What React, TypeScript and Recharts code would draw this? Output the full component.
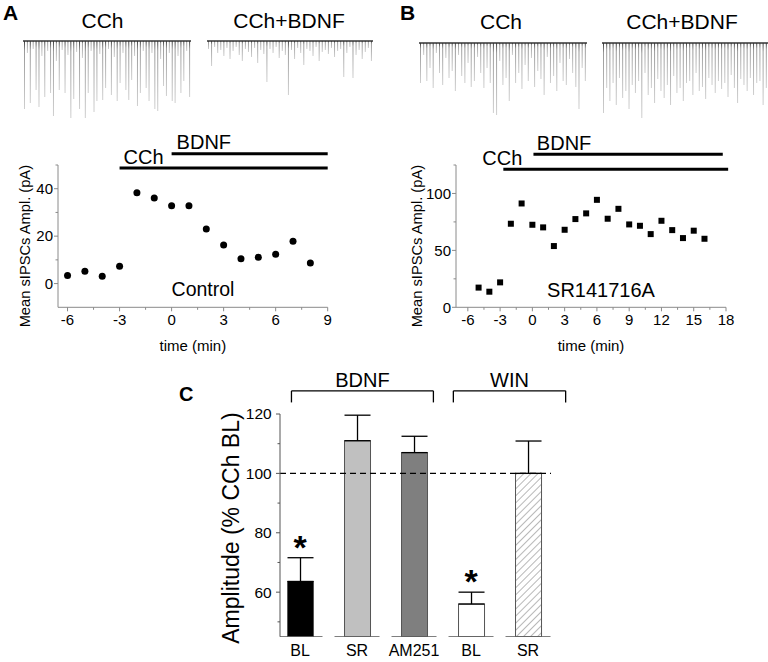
import React from 'react';
import {
  BarChart,
  Bar,
  ComposedChart,
  ScatterChart,
  Scatter,
  XAxis,
  YAxis,
  ReferenceLine,
  ErrorBar,
  Label,
} from 'recharts';

const FONT = '"Liberation Sans", Arial, Helvetica, sans-serif';

// ── Example traces: depth of each sIPSC event below baseline (px) ────────────
const TRACE_A_CCH = [68, 12, 62, 8, 49, 66, 15, 56, 10, 52, 75, 20, 49, 9, 52, 14, 77, 58, 11, 68, 17, 77, 52, 10, 71, 60, 13, 59, 47, 8, 54, 16, 60, 42, 12, 49, 59, 39, 15, 65, 52, 10, 47, 60, 12, 68, 70, 18, 45, 55, 12, 60, 62, 15, 52, 40, 10, 56];
const TRACE_A_BDNF = [8, 25, 6, 12, 9, 15, 7, 18, 10, 6, 14, 20, 8, 11, 16, 7, 22, 9, 13, 41, 8, 12, 6, 17, 10, 14, 54, 9, 18, 7, 12, 24, 8, 10, 15, 6, 20, 11, 9, 13, 7, 16, 10, 8, 36, 12, 6, 37, 14, 9, 18, 11, 7, 20];
const TRACE_B_CCH = [40, 12, 38, 25, 45, 10, 30, 42, 15, 35, 28, 48, 12, 33, 40, 20, 44, 38, 14, 30, 45, 25, 40, 70, 72, 18, 42, 35, 58, 12, 40, 30, 46, 22, 38, 15, 44, 28, 36, 52, 14, 40, 33, 48, 20, 38, 42, 16, 30, 44, 66, 25, 38];
const TRACE_B_BDNF = [70, 45, 58, 40, 62, 35, 55, 48, 66, 42, 50, 38, 75, 30, 52, 45, 60, 36, 48, 55, 42, 62, 33, 50, 45, 58, 40, 38, 52, 30, 48, 44, 56, 35, 42, 50, 38, 46, 40, 54, 32, 45, 60, 36, 42, 48, 35, 52, 40, 38, 62, 45];

// ── Panel A: control ─────────────────────────────────────────────────────────
const A_TIME = [-6, -5, -4, -3, -2, -1, 0, 1, 2, 3, 4, 5, 6, 7, 8];
const A_AMP = [3.4, 5.2, 3.1, 7.3, 38.3, 36.1, 32.8, 32.8, 23, 16.3, 10.5, 11.1, 12.4, 17.8, 8.7];
const A_XMAJOR = [-6, -3, 0, 3, 6, 9];
const A_XMINOR = [-4.5, -1.5, 1.5, 4.5, 7.5];
const A_YMAJOR = [0, 20, 40];
const A_YMINOR = [10, 30, 50];
const A_TREAT = [
  { name: 'CCh', start: -3, end: 9 },
  { name: 'BDNF', start: 0, end: 9 },
];

// ── Panel B: SR141716A ───────────────────────────────────────────────────────
const B_TIME = [-5, -4, -3, -2, -1, 0, 1, 2, 3, 4, 5, 6, 7, 8, 9, 10, 11, 12, 13, 14, 15, 16];
const B_AMP = [17.3, 13.7, 21.9, 73.4, 91.2, 72.5, 70.2, 53.8, 68.1, 77.5, 82.5, 94.4, 77.8, 86.5, 72.8, 71.6, 64.3, 76, 67.8, 60.8, 67.3, 60.2];
const B_XMAJOR = [-6, -3, 0, 3, 6, 9, 12, 15, 18];
const B_XMINOR = [-4.5, -1.5, 1.5, 4.5, 7.5, 10.5, 13.5, 16.5];
const B_YMAJOR = [0, 50, 100];
const B_YMINOR = [25, 75, 125];
const B_TREAT = [
  { name: 'CCh', start: -2.7, end: 18.2 },
  { name: 'BDNF', start: 0.1, end: 17.7 },
];

// ── Panel C: summary ─────────────────────────────────────────────────────────
const C_CATS = ['BL', 'SR', 'AM251', 'BL', 'SR'];
const C_AMP = [63.6, 111, 107, 56, 100];
const C_SEM = [8, 8.6, 5.5, 4, 10.9];
const C_SIG = [true, false, false, true, false];
const C_GROUPS = ['BDNF', 'WIN'];
const C_YMAJOR = [60, 80, 100, 120];
const C_YMINOR = [50, 70, 90, 110];

// layout / style
const BAR_FILLS = ['#000000', '#c0c0c0', '#7f7f7f', '#ffffff', 'url(#hatch)'];
const BRACKET_SPAN = [
  [-0.15, 2.34],
  [2.69, 4.66],
];
const AXIS_GRAY = '#8a8a8a';

function Tick(props: any) {
  const { x, y, payload, side, major, fontSize, gap, color, fmt } = props;
  const v = payload.value;
  const isMajor = major.includes(v);
  const len = isMajor ? 4 : 2.5;
  const label = fmt ? fmt(v) : String(v);
  if (side === 'bottom') {
    return (
      <g>
        {len > 0 && <line x1={x} y1={y} x2={x} y2={y + len} stroke={color} />}
        {isMajor && (
          <text x={x} y={y + gap} dy="0.71em" textAnchor="middle" fontSize={fontSize} fontFamily={FONT} fill="#000">
            {label}
          </text>
        )}
      </g>
    );
  }
  return (
    <g>
      <line x1={x} y1={y} x2={x - len} y2={y} stroke={color} />
      {isMajor && (
        <text x={x - gap} y={y} dy="0.35em" textAnchor="end" fontSize={fontSize} fontFamily={FONT} fill="#000">
          {label}
        </text>
      )}
    </g>
  );
}

function Trace({ depths, id, left, top, width }: any) {
  const rows = depths.map((d: number, i: number) => ({ i, d }));
  return (
    <div style={{ position: 'absolute', left, top }}>
      <BarChart width={width} height={82} data={rows} margin={{ top: 0, right: 0, bottom: 0, left: 0 }} barCategoryGap={0}>
        <defs>
          <linearGradient id={id} x1="0" y1="0" x2="0" y2="1">
            <stop offset="0" stopColor="#3a3a3a" />
            <stop offset="0.14" stopColor="#9a9a9a" />
            <stop offset="1" stopColor="#cfcfcf" />
          </linearGradient>
        </defs>
        <XAxis dataKey="i" hide />
        <YAxis hide reversed domain={[-2, 80]} />
        <Bar dataKey="d" barSize={1} fill={`url(#${id})`} isAnimationActive={false} />
        <ReferenceLine y={0} stroke="#333" strokeWidth={1.3} />
      </BarChart>
    </div>
  );
}

function TimePanel(props: any) {
  const { left, top, width, ml, mr, time, amp, xDomain, xMajor, xMinor, yDomain, yMajor, yMinor, treat, levels, labelDx, yLabelX, square } = props;
  const rows = time.map((t: number, i: number) => ({ x: t, y: amp[i] }));
  const xTicks = [...xMajor, ...xMinor].sort((a, b) => a - b);
  const yTicks = [...yMajor, ...yMinor].sort((a, b) => a - b);
  const marker = (p: any) =>
    square ? <rect x={p.cx - 3} y={p.cy - 3} width={6} height={6} fill="#000" /> : <circle cx={p.cx} cy={p.cy} r={3.5} fill="#000" />;
  return (
    <div style={{ position: 'absolute', left, top }}>
      <ScatterChart width={width} height={230} margin={{ top: 35, right: mr, bottom: 22.7, left: ml }}>
        <XAxis
          type="number"
          dataKey="x"
          domain={xDomain}
          ticks={xTicks}
          interval={0}
          allowDataOverflow
          height={30}
          tickLine={false}
          tickSize={0}
          tickMargin={0}
          axisLine={{ stroke: AXIS_GRAY }}
          tick={<Tick side="bottom" major={xMajor} fontSize={15} gap={7} color={AXIS_GRAY} />}
        >
          <Label
            content={(p: any) => (
              <text x={p.viewBox.x + p.viewBox.width / 2} y={p.viewBox.y + 44} textAnchor="middle" fontSize={15} fontFamily={FONT}>
                time (min)
              </text>
            )}
          />
        </XAxis>
        <YAxis
          type="number"
          dataKey="y"
          domain={yDomain}
          ticks={yTicks}
          interval={0}
          allowDataOverflow
          width={40}
          tickLine={false}
          tickSize={0}
          tickMargin={0}
          axisLine={{ stroke: AXIS_GRAY }}
          tick={<Tick side="left" major={yMajor} fontSize={15} gap={5} color={AXIS_GRAY} />}
        >
          <Label
            content={(p: any) => {
              const cy = p.viewBox.y + p.viewBox.height / 2 + 10;
              return (
                <text x={yLabelX} y={cy} transform={`rotate(-90 ${yLabelX} ${cy})`} textAnchor="middle" dy="0.35em" fontSize={14.7} fontFamily={FONT}>
                  Mean sIPSCs Ampl. (pA)
                </text>
              );
            }}
          />
        </YAxis>
        {treat.map((t: any, i: number) => (
          <ReferenceLine
            key={t.name}
            segment={[
              { x: t.start, y: levels[i] },
              { x: t.end, y: levels[i] },
            ]}
            stroke="#000"
            strokeWidth={3}
            ifOverflow="visible"
          >
            <Label
              content={(p: any) => (
                <text x={p.viewBox.x + labelDx[i]} y={p.viewBox.y - 4.5} fontSize={20} fontFamily={FONT}>
                  {t.name}
                </text>
              )}
            />
          </ReferenceLine>
        ))}
        <Scatter data={rows} shape={marker} isAnimationActive={false} />
      </ScatterChart>
    </div>
  );
}

function CBar(props: any) {
  const { x, y, width, height, payload } = props;
  const top = Math.min(y, y + height);
  const h = Math.abs(height);
  return (
    <g>
      <rect x={x} y={top} width={width} height={h} fill={BAR_FILLS[payload.idx]} stroke="#555" strokeWidth={1} />
      <line x1={x - 10} x2={x + width + 9} y1={top + h} y2={top + h} stroke="#555" strokeWidth={1.3} />
    </g>
  );
}

function SummaryPanel() {
  const rows = C_CATS.map((c, i) => ({ idx: i, amp: C_AMP[i], err: [0, C_SEM[i]] }));
  const stars = C_CATS.map((c, i) => ({ idx: i, star: C_AMP[i] + C_SEM[i], sig: C_SIG[i] })).filter((r) => r.sig);
  const yTicks = [...C_YMAJOR, ...C_YMINOR].sort((a, b) => a - b);
  return (
    <div style={{ position: 'absolute', left: 170, top: 360 }}>
      <ComposedChart width={420} height={302} data={rows} margin={{ top: 54, right: 39, bottom: 1.3, left: 50 }}>
        <defs>
          <pattern id="hatch" width="5" height="5" patternUnits="userSpaceOnUse" patternTransform="rotate(45)">
            <rect width="5" height="5" fill="#fff" />
            <line x1="0" y1="0" x2="0" y2="5" stroke="#9a9a9a" strokeWidth="1.4" />
          </pattern>
        </defs>
        <XAxis
          type="number"
          dataKey="idx"
          domain={[-0.351, 4.403]}
          ticks={[0, 1, 2, 3, 4]}
          interval={0}
          allowDataOverflow
          height={24}
          axisLine={false}
          tickLine={false}
          tickSize={0}
          tickMargin={0}
          tick={<Tick side="bottom" major={[0, 1, 2, 3, 4]} fontSize={16} gap={8.3} color="none" fmt={(v: number) => C_CATS[v]} />}
        />
        <YAxis
          type="number"
          domain={[45, 120]}
          ticks={yTicks}
          interval={0}
          allowDataOverflow
          width={60}
          tickLine={false}
          tickSize={0}
          tickMargin={0}
          axisLine={{ stroke: '#555' }}
          tick={<Tick side="left" major={C_YMAJOR} fontSize={15.5} gap={8.3} color="#555" />}
        >
          <Label
            content={(p: any) => {
              const cx = p.viewBox.x + 11;
              const cy = p.viewBox.y + p.viewBox.height / 2 + 2.7;
              return (
                <text x={cx} y={cy} transform={`rotate(-90 ${cx} ${cy})`} textAnchor="middle" dy="0.35em" fontSize={23} fontFamily={FONT}>
                  Amplitude (% CCh BL)
                </text>
              );
            }}
          />
        </YAxis>
        <ReferenceLine y={100} stroke="#000" strokeWidth={1.4} strokeDasharray="6 4" />
        <Bar dataKey="amp" barSize={26} shape={<CBar />} isAnimationActive={false}>
          <ErrorBar dataKey="err" direction="y" width={13} stroke="#000" strokeWidth={1.3} />
        </Bar>
        <Scatter
          data={stars}
          dataKey="star"
          isAnimationActive={false}
          shape={(p: any) => (
            <text x={p.cx} y={p.cy + 1} textAnchor="middle" fontSize={34} fontWeight="bold" fontFamily={FONT} fill="#000">
              *
            </text>
          )}
        />
        {C_GROUPS.map((g, i) => {
          const [a, b] = BRACKET_SPAN[i];
          return (
            <React.Fragment key={g}>
              <ReferenceLine
                segment={[
                  { x: a, y: 127.8 },
                  { x: b, y: 127.8 },
                ]}
                stroke="#000"
                strokeWidth={1.3}
                ifOverflow="visible"
              >
                <Label
                  content={(p: any) => (
                    <text x={p.viewBox.x + p.viewBox.width / 2} y={p.viewBox.y - 3.5} textAnchor="middle" fontSize={20} fontFamily={FONT}>
                      {g}
                    </text>
                  )}
                />
              </ReferenceLine>
              <ReferenceLine segment={[{ x: a, y: 127.8 }, { x: a, y: 123.9 }]} stroke="#000" strokeWidth={1.3} ifOverflow="visible" />
              <ReferenceLine segment={[{ x: b, y: 127.8 }, { x: b, y: 123.9 }]} stroke="#000" strokeWidth={1.3} ifOverflow="visible" />
            </React.Fragment>
          );
        })}
      </ComposedChart>
    </div>
  );
}

export default function App() {
  return (
    <div style={{ position: 'absolute', left: 0, top: 0, width: 768, height: 662, background: '#fff', fontFamily: FONT, overflow: 'hidden' }}>
      <svg width={768} height={662} style={{ position: 'absolute', left: 0, top: 0 }}>
        <g fontFamily={FONT} fill="#000">
          <text x={3} y={20} fontSize={21} fontWeight="bold">A</text>
          <text x={400} y={20} fontSize={21} fontWeight="bold">B</text>
          <text x={179} y={400.7} fontSize={20} fontWeight="bold">C</text>
          <text x={102.5} y={28.3} fontSize={21} textAnchor="middle">CCh</text>
          <text x={289} y={28.3} fontSize={21} textAnchor="middle">CCh+BDNF</text>
          <text x={501} y={29} fontSize={21} textAnchor="middle">CCh</text>
          <text x={682} y={29} fontSize={21} textAnchor="middle">CCh+BDNF</text>
          <text x={203} y={296} fontSize={19.5} textAnchor="middle">Control</text>
          <text x={601} y={297} fontSize={20} textAnchor="middle">SR141716A</text>
        </g>
      </svg>

      <Trace depths={TRACE_A_CCH} id="tgA1" left={23} top={39} width={168} />
      <Trace depths={TRACE_A_BDNF} id="tgA2" left={207} top={39} width={166} />
      <Trace depths={TRACE_B_CCH} id="tgB1" left={419} top={41} width={168} />
      <Trace depths={TRACE_B_BDNF} id="tgB2" left={602} top={41} width={166} />

      <TimePanel
        left={0}
        top={130}
        width={345}
        ml={18}
        mr={17.3}
        time={A_TIME}
        amp={A_AMP}
        xDomain={[-6.55, 9]}
        xMajor={A_XMAJOR}
        xMinor={A_XMINOR}
        yDomain={[-10, 50]}
        yMajor={A_YMAJOR}
        yMinor={A_YMINOR}
        treat={A_TREAT}
        levels={[48.7, 54.7]}
        labelDx={[4, 5]}
        yLabelX={25}
      />
      <TimePanel
        left={390}
        top={130}
        width={345}
        ml={26}
        mr={9}
        time={B_TIME}
        amp={B_AMP}
        xDomain={[-7.1, 18]}
        xMajor={B_XMAJOR}
        xMinor={B_XMINOR}
        yDomain={[0, 125]}
        yMajor={B_YMAJOR}
        yMinor={B_YMINOR}
        treat={B_TREAT}
        levels={[121.3, 134.5]}
        labelDx={[-21, 3.4]}
        yLabelX={26.7}
        square
      />

      <SummaryPanel />
    </div>
  );
}
